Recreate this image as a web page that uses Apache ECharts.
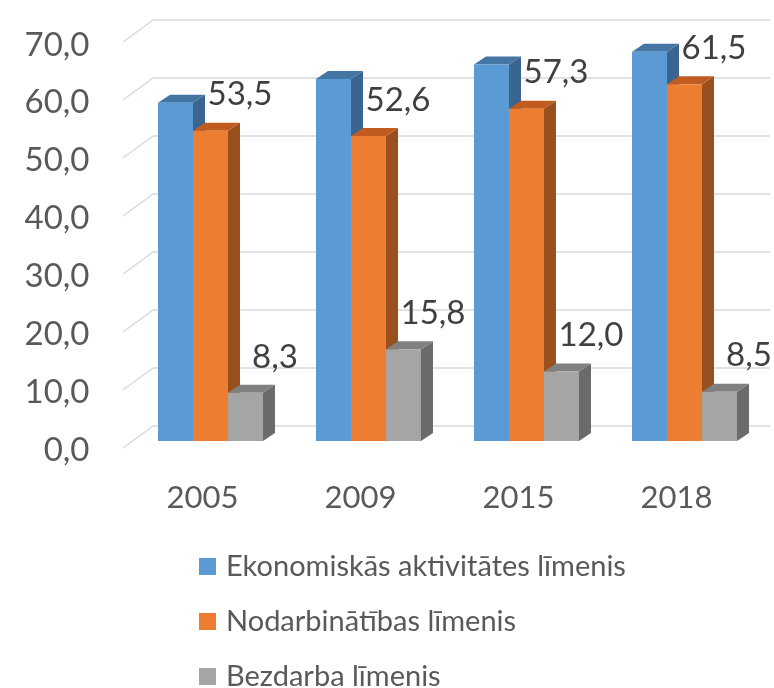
<!DOCTYPE html>
<html>
<head>
<meta charset="utf-8">
<script src="https://cdn.jsdelivr.net/npm/echarts@6/dist/echarts.min.js"></script>
<style>
  html, body { margin: 0; padding: 0; background: #fff; }
  #chart { width: 774px; height: 688px; }
</style>
</head>
<body>
<div id="chart"></div>
<script>
// dati
const years = ['2005', '2009', '2015', '2018'];
const activity = [58.3, 62.4, 64.9, 67.1];      // Ekonomiskās aktivitātes līmenis (bez etiķetēm)
const employment = [53.5, 52.6, 57.3, 61.5];    // Nodarbinātības līmenis
const unemployment = [8.3, 15.8, 12.0, 8.5];    // Bezdarba līmenis
const yTicks = [0, 10, 20, 30, 40, 50, 60, 70];

const seriesNames = ['Ekonomiskās aktivitātes līmenis', 'Nodarbinātības līmenis', 'Bezdarba līmenis'];
const FONT = 'Lato, "Open Sans", sans-serif';

// krāsas: priekša, augša, sāns
const palette = [
    ['#5b9bd5', '#4575a3', '#3a6591'],
    ['#ed7d31', '#c05c1f', '#9a4f1e'],
    ['#a5a5a5', '#808080', '#6b6b6b']
];

const fmt = v => v.toFixed(1).replace('.', ',');

// 3D stabiņa zīmēšana
const barRender = (idx, showLabel) => (params, api) => {
    const cat = api.value(0), val = api.value(1);
    const top = api.coord([cat, val]);
    const base = api.coord([cat, 0]);
    const band = api.size([1, 0])[0];
    const w = band * 35 / 158;
    const x0 = top[0] - 1.5 * w + idx * w;
    const x1 = x0 + w;
    const dx = 12, dy = -8;
    const c = palette[idx];
    const children = [
        {
            type: 'polygon',
            shape: {points: [[x1, top[1]], [x1 + dx, top[1] + dy], [x1 + dx, base[1] + dy], [x1, base[1]]]},
            style: {fill: c[2]}
        },
        {
            type: 'polygon',
            shape: {points: [[x0, top[1]], [x0 + dx, top[1] + dy], [x1 + dx, top[1] + dy], [x1, top[1]]]},
            style: {fill: c[1]}
        },
        {
            type: 'rect',
            shape: {x: x0, y: top[1], width: w, height: base[1] - top[1]},
            style: {fill: c[0]}
        }
    ];
    if (showLabel) {
        children.push({
            type: 'text',
            style: {
                text: fmt(val),
                x: x1 + 12,
                y: top[1] - 36,
                align: 'center',
                verticalAlign: 'middle',
                fill: '#404040',
                fontSize: 33,
                fontFamily: FONT
            }
        });
    }
    return {type: 'group', children};
};

const toData = arr => arr.map((v, i) => [i, v]);

const myChart = echarts.init(document.getElementById('chart'), null, {renderer: 'canvas'});

const option = {
    animation: false,
    backgroundColor: '#ffffff',
    grid: [
        {left: 153, top: 20, width: 617, height: 406},   // aizmugurējā siena
        {left: 131.5, top: 35, width: 632, height: 406}, // stabiņu priekšpuse
        {left: 123.5, top: 45, width: 632, height: 405}  // priekšējā plakne (ass teksti)
    ],
    xAxis: [
        {gridIndex: 0, type: 'value', min: 0, max: 1, show: false},
        {gridIndex: 1, type: 'category', data: years, show: false},
        {
            gridIndex: 2, type: 'category', data: years,
            axisLine: {show: false}, axisTick: {show: false},
            axisLabel: {color: '#595959', fontSize: 31, fontFamily: FONT, margin: 32}
        }
    ],
    yAxis: [
        {
            gridIndex: 0, type: 'value', min: 0, max: 70, interval: 10,
            axisLabel: {show: false}, axisLine: {show: false}, axisTick: {show: false},
            splitLine: {lineStyle: {color: '#d9d9d9', width: 1.5}}
        },
        {gridIndex: 1, type: 'value', min: 0, max: 70, interval: 10, show: false},
        {
            gridIndex: 2, type: 'value', min: 0, max: 70, interval: 10,
            axisLine: {show: false}, axisTick: {show: false}, splitLine: {show: false},
            axisLabel: {color: '#595959', fontSize: 33, fontFamily: FONT, margin: 34, formatter: fmt}
        }
    ],
    legend: {
        data: seriesNames,
        orient: 'vertical',
        left: 199,
        top: 552,
        height: 240,
        padding: 0,
        itemWidth: 17,
        itemHeight: 17,
        itemGap: 26,
        icon: 'rect',
        textStyle: {color: '#595959', fontSize: 29, fontFamily: FONT, lineHeight: 24, padding: [0, 0, 0, 5]}
    },
    series: [
        {
            // slīpās režģa līnijas
            type: 'custom',
            xAxisIndex: 0, yAxisIndex: 0,
            silent: true,
            data: yTicks.map(v => [0, v]),
            renderItem: (params, api) => {
                const p = api.coord([0, api.value(1)]);
                return {
                    type: 'line',
                    shape: {x1: p[0], y1: p[1], x2: p[0] - 30, y2: p[1] + 22},
                    style: {stroke: '#d9d9d9', lineWidth: 1.5}
                };
            }
        },
        {
            name: seriesNames[0], type: 'custom', xAxisIndex: 1, yAxisIndex: 1,
            itemStyle: {color: palette[0][0]},
            data: toData(activity), renderItem: barRender(0, false)
        },
        {
            name: seriesNames[1], type: 'custom', xAxisIndex: 1, yAxisIndex: 1,
            itemStyle: {color: palette[1][0]},
            data: toData(employment), renderItem: barRender(1, true)
        },
        {
            name: seriesNames[2], type: 'custom', xAxisIndex: 1, yAxisIndex: 1,
            itemStyle: {color: palette[2][0]},
            data: toData(unemployment), renderItem: barRender(2, true)
        }
    ]
};

myChart.setOption(option);
</script>
</body>
</html>
